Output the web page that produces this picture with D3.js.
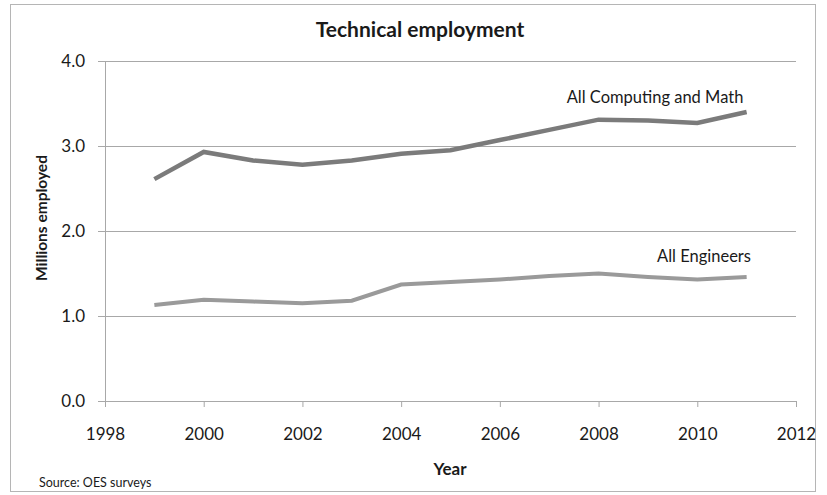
<!DOCTYPE html>
<html>
<head>
<meta charset="utf-8">
<script src="https://cdn.jsdelivr.net/npm/d3@7"></script>
<style>
  body { margin: 0; background: #fff; }
  svg text { font-family: Lato, "Open Sans", sans-serif; fill: #1a1a1a; }
</style>
</head>
<body>
<svg id="chart"></svg>
<script>
const years = [1999, 2000, 2001, 2002, 2003, 2004, 2005, 2006, 2007, 2008, 2009, 2010, 2011];
const computingMath = [2.61, 2.93, 2.83, 2.78, 2.83, 2.91, 2.95, 3.07, 3.19, 3.31, 3.30, 3.27, 3.40];
const engineers = [1.13, 1.19, 1.17, 1.15, 1.18, 1.37, 1.40, 1.43, 1.47, 1.50, 1.46, 1.43, 1.46];
const xTicks = [1998, 2000, 2002, 2004, 2006, 2008, 2010, 2012];
const yTicks = [0, 1, 2, 3, 4];
const seriesNames = ["All Computing and Math", "All Engineers"];

const width = 827, height = 495;
const margin = {left: 105, right: 31, top: 61, bottom: 94};

const svg = d3.select("#chart")
    .attr("width", width)
    .attr("height", height);

// outer frame
svg.append("rect")
    .attr("x", 10.5).attr("y", 4.5)
    .attr("width", 805).attr("height", 487)
    .attr("fill", "none")
    .attr("stroke", "#b5b5b5");

const x = d3.scaleLinear()
    .domain([1998, 2012])
    .range([margin.left, width - margin.right]);
const y = d3.scaleLinear()
    .domain([0, 4])
    .range([height - margin.bottom, margin.top]);

// gridlines + y axis
const yAxis = d3.axisLeft(y)
    .tickValues(yTicks)
    .tickFormat(d3.format(".1f"))
    .tickSize(-(width - margin.left - margin.right))
    .tickPadding(20);
const gy = svg.append("g")
    .attr("transform", `translate(${margin.left},0)`)
    .call(yAxis);
gy.select(".domain").remove();
gy.selectAll(".tick line").attr("stroke", "#a8a8a8").attr("x1", -7);
gy.selectAll(".tick text").attr("font-size", 17).attr("font-family", "Lato, sans-serif").attr("fill", "#1a1a1a");
svg.append("line")
    .attr("x1", margin.left + 0.5).attr("x2", margin.left + 0.5)
    .attr("y1", y(4)).attr("y2", y(0))
    .attr("stroke", "#a8a8a8");

// x axis
const xAxis = d3.axisBottom(x)
    .tickValues(xTicks)
    .tickFormat(d3.format("d"))
    .tickSize(6)
    .tickPadding(21);
const gx = svg.append("g")
    .attr("transform", `translate(0,${y(0)})`)
    .call(xAxis);
gx.select(".domain").attr("stroke", "#a8a8a8");
gx.selectAll(".tick line").attr("stroke", "#a8a8a8");
gx.selectAll(".tick text").attr("font-size", 17).attr("font-family", "Lato, sans-serif").attr("fill", "#1a1a1a");

// lines
const line = d3.line()
    .x((d, i) => x(years[i]))
    .y(d => y(d));

svg.append("path")
    .datum(engineers)
    .attr("d", line)
    .attr("fill", "none")
    .attr("stroke", "#9a9a9a")
    .attr("stroke-width", 4);

svg.append("path")
    .datum(computingMath)
    .attr("d", line)
    .attr("fill", "none")
    .attr("stroke", "#7b7b7b")
    .attr("stroke-width", 4.5);

// series labels
svg.append("text")
    .attr("x", 655).attr("y", 103)
    .attr("text-anchor", "middle")
    .attr("font-size", 16.5)
    .text(seriesNames[0]);
svg.append("text")
    .attr("x", 704).attr("y", 262)
    .attr("text-anchor", "middle")
    .attr("font-size", 16.5)
    .text(seriesNames[1]);

// titles
svg.append("text")
    .attr("x", 420).attr("y", 37)
    .attr("text-anchor", "middle")
    .attr("font-size", 21)
    .attr("font-weight", "bold")
    .text("Technical employment");

svg.append("text")
    .attr("x", 450).attr("y", 475)
    .attr("text-anchor", "middle")
    .attr("font-size", 17)
    .attr("font-weight", "bold")
    .text("Year");

svg.append("text")
    .attr("transform", "translate(47,218) rotate(-90)")
    .attr("text-anchor", "middle")
    .attr("font-size", 15.5)
    .attr("font-weight", "bold")
    .text("Millions employed");

svg.append("text")
    .attr("x", 39).attr("y", 487)
    .attr("font-size", 12.5)
    .text("Source: OES surveys");
</script>
</body>
</html>
